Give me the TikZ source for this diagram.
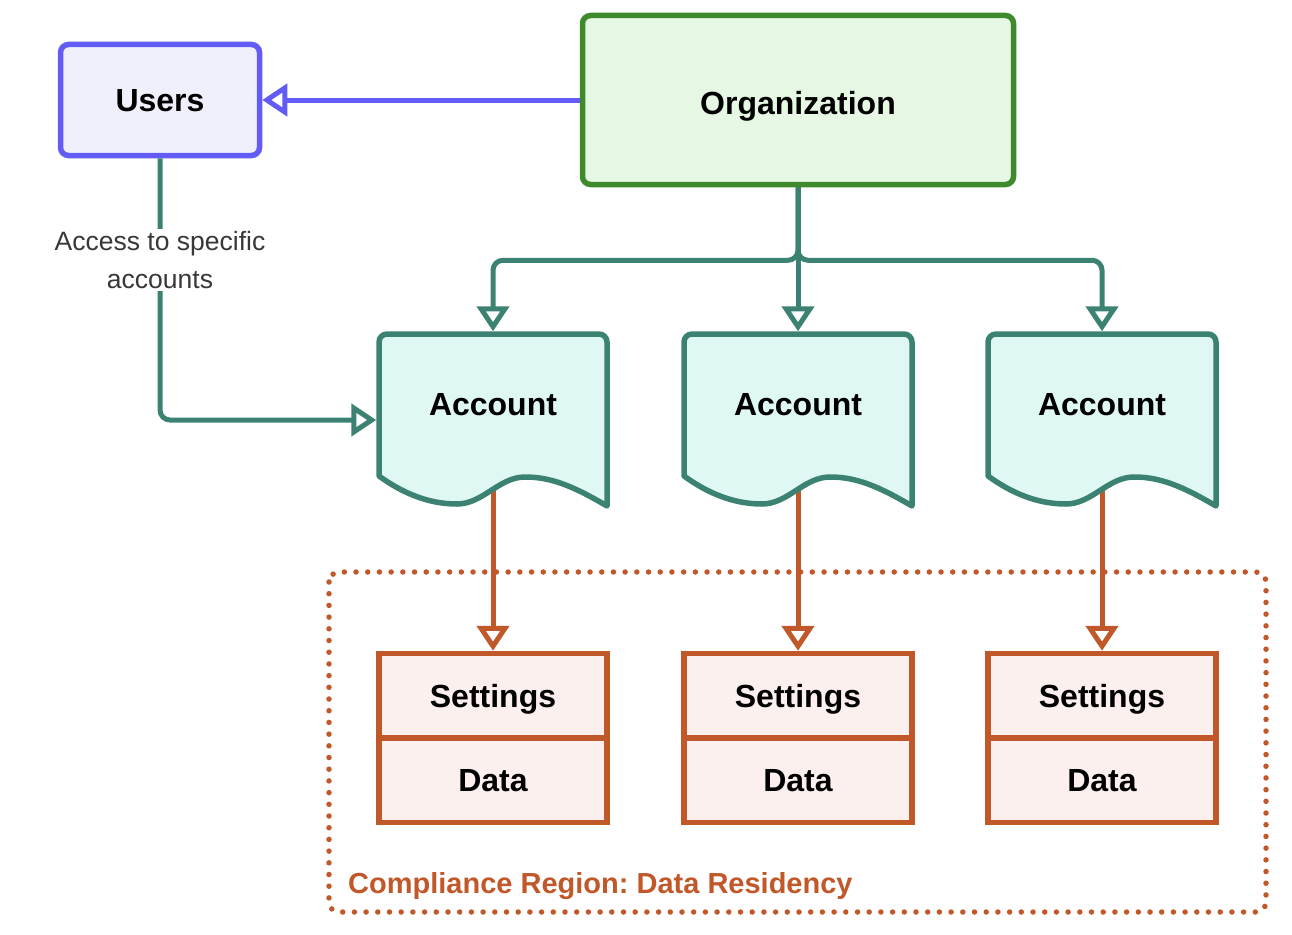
\documentclass[tikz,border=0pt]{standalone}
\usepackage{fontspec}
\setmainfont{Liberation Sans}
\usetikzlibrary{arrows.meta}
\definecolor{usrB}{HTML}{635BF5}
\definecolor{usrF}{HTML}{F0F0FC}
\definecolor{orgB}{HTML}{3E8A2C}
\definecolor{orgF}{HTML}{E6F7E4}
\definecolor{tealB}{HTML}{3C8272}
\definecolor{accF}{HTML}{E0F8F3}
\definecolor{rustB}{HTML}{C0582A}
\definecolor{setF}{HTML}{FBF0EE}
\definecolor{lblC}{HTML}{383838}
\frenchspacing
\begin{document}
\begin{tikzpicture}[x=1pt,y=-1pt,
  boldlbl/.style={font=\fontsize{32}{38}\selectfont\bfseries, text=black, text height=23pt, text depth=0pt},
  usersbox/.style={draw=usrB, fill=usrF, line width=5.5pt, rounded corners=8pt, minimum width=199pt, minimum height=111pt, boldlbl},
  orgbox/.style={draw=orgB, fill=orgF, line width=5.5pt, rounded corners=8pt, minimum width=431pt, minimum height=169pt, boldlbl, text height=29pt},
  accframe/.style={draw=none, line width=5.5pt, minimum width=228pt, minimum height=172pt, inner sep=0pt},
  accshape/.style={draw=tealB, fill=accF, line width=5.5pt, line join=round},
  acctext/.style={boldlbl, inner sep=0pt},
  cellbox/.style={draw=rustB, fill=setF, line width=5.5pt, minimum width=228pt, minimum height=84.5pt, inner sep=0pt, boldlbl},
  tip/.style={-{Triangle[fill=white, length=25pt, width=32pt, line width=5pt]}},
  tealconn/.style={draw=tealB, line width=5pt, tip},
  usrconn/.style={draw=usrB, line width=5pt, tip},
  rustconn/.style={draw=rustB, line width=5pt, tip},
  region/.style={draw=rustB, line width=5.5pt, line cap=round, dash pattern=on 0pt off 11.7pt, rounded corners=10pt},
  edgelbl/.style={font=\fontsize{26.5}{38}\selectfont, text=lblC, fill=white, align=center, inner sep=2pt},
  regionlbl/.style={font=\fontsize{29}{34}\selectfont\bfseries, text=rustB, inner sep=0pt}
]
\useasboundingbox (0,0) rectangle (1292,934);

% compliance region
\draw[region] (329,572) rectangle (1266,912);
\node[regionlbl, anchor=base west] (reglbl) at (348,893) {Compliance Region: Data Residency};

% settings / data cells and red connectors
\foreach \cx/\i in {493/1,798/2,1102/3}{
  \node[cellbox] (set\i) at (\cx,695.75) {Settings};
  \node[cellbox] (dat\i) at (\cx,780.25) {Data};
  \coordinate (w\i) at (\cx,485);
  \draw[rustconn] (w\i) -- (set\i.north);
}

% accounts (document shapes)
\foreach \cx/\i in {493/1,798/2,1102/3}{
  \draw[accshape] ({\cx-114},476) -- ({\cx-114},342)
     arc[start angle=180, end angle=270, radius=8]
     -- ({\cx+106},334)
     arc[start angle=270, end angle=360, radius=8]
     -- ({\cx+114},506)
     .. controls ({\cx+80},486) and ({\cx+58},477) .. ({\cx+32},477)
     .. controls ({\cx+6},477) and ({\cx-10},504) .. ({\cx-36},504)
     .. controls ({\cx-66},504) and ({\cx-92},492) .. ({\cx-114},476) -- cycle;
  \node[accframe] (acc\i) at (\cx,420) {};
  \node[acctext] (acct\i) at (\cx,404) {Account};
}

% top nodes
\node[usersbox] (users) at (160,100) {Users};
\node[orgbox] (org) at (798,100) {Organization};

% connectors
\draw[usrconn] (org.west) -- (users.east);
\draw[tealconn, rounded corners=10pt] (org.south) -- ++(0,73) -| (acc1.north);
\draw[tealconn, rounded corners=10pt] (org.south) -- ++(0,73) -| (acc3.north);
\draw[tealconn] (org.south) -- (acc2.north);
\draw[tealconn, rounded corners=10pt] (users.south) |- (acc1.west);
\node[edgelbl] (acclbl) at (160,260) {Access to specific\\accounts};
\end{tikzpicture}
\end{document}
